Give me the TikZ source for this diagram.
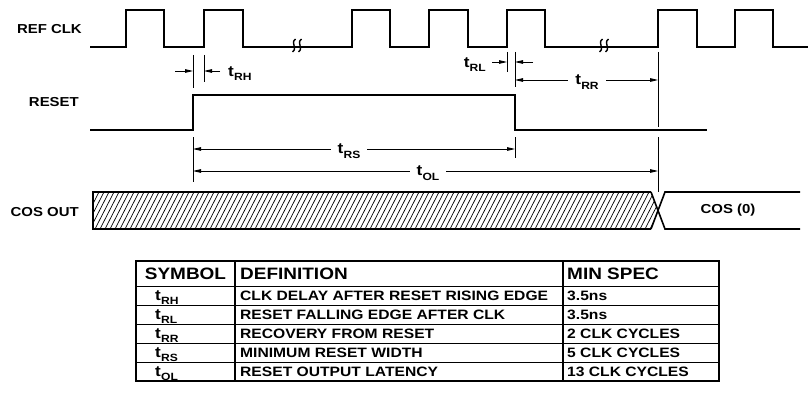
\documentclass[tikz,border=0pt]{standalone}
\usepackage{fontspec}
\setmainfont{Liberation Sans}[FakeStretch=1.15]
\usetikzlibrary{arrows.meta}
\newcommand\tlab[1]{t\kern0.2pt\raisebox{-0.3em}{\fontsize{10.5}{11}\selectfont #1}}
\begin{document}
\begin{tikzpicture}[x=1pt,y=-1pt,
  sig/.style={line width=1.8pt},
  dim/.style={line width=0.8pt},
  arr/.style={dim,-{Triangle[length=8pt,width=3.6pt]}},
  arr2/.style={dim,{Triangle[length=8pt,width=3.6pt]}-{Triangle[length=8pt,width=3.6pt]}},
  lab/.style={font=\bfseries\fontsize{13}{15}\selectfont, inner sep=0pt},
  tl/.style={font=\bfseries\fontsize{15}{16}\selectfont, inner sep=0pt},
  tlf/.style={tl, fill=white, inner xsep=7pt, inner ysep=1pt},
  hatch/.style={line width=0.7pt, black},
  box/.style={line width=1.6pt},
  hd/.style={font=\bfseries\fontsize{16.5}{18}\selectfont, inner sep=0pt},
  cell/.style={font=\bfseries\fontsize{13.6}{15}\selectfont, inner sep=0pt, anchor=base west},
  tcell/.style={font=\bfseries\fontsize{15}{16}\selectfont, inner sep=0pt, anchor=base west},
  brk/.style={line width=1.4pt}
]
\useasboundingbox (0,0) rectangle (808,412);

% ---------- labels ----------
\node[lab, anchor=east] (lclk) at (82,29) {REF CLK};
\node[lab, anchor=east] (lrst) at (79,102) {RESET};
\node[lab, anchor=east] (lcos) at (79,212) {COS OUT};

% ---------- REF CLK ----------
\draw[sig] (90,47) -- (126,47) -- (126,10) -- (164,10) -- (164,47)
  -- (204,47) -- (204,10) -- (243,10) -- (243,47)
  -- (352,47) -- (352,10) -- (390,10) -- (390,47)
  -- (429,47) -- (429,10) -- (468,10) -- (468,47)
  -- (507,47) -- (507,10) -- (545,10) -- (545,47)
  -- (658,47) -- (658,10) -- (697,10) -- (697,47)
  -- (735,47) -- (735,10) -- (773,10) -- (773,47) -- (808,47);
% break marks
\foreach \bx in {294,300,601,607}{
  \draw[brk] (\bx+1.5,39) .. controls (\bx-4,43) and (\bx+4,48) .. (\bx-1.5,52);
}

% ---------- RESET ----------
\draw[sig] (90,130) -- (193,130) -- (193,95) -- (515,95) -- (515,130) -- (707,130);

% ---------- tRH ----------
\coordinate (a1) at (193,55); \coordinate (a2) at (193,88);
\coordinate (b1) at (204,55); \coordinate (b2) at (204,82);
\draw[dim] (a1) -- (a2);
\draw[dim] (b1) -- (b2);
\coordinate (rhL) at (175,71); \coordinate (rhLe) at (193,71);
\coordinate (rhR) at (220,71); \coordinate (rhRe) at (204,71);
\draw[arr] (rhL) -- (rhLe);
\draw[arr] (rhR) -- (rhRe);
\node[tl, anchor=base west] (trh) at (228,76) {\tlab{RH}};

% ---------- tRL / tRR ----------
\coordinate (c1) at (507,52); \coordinate (c2) at (507,72);
\coordinate (d1) at (515,52); \coordinate (d2) at (515,87);
\draw[dim] (c1) -- (c2);
\draw[dim] (d1) -- (d2);
\coordinate (rlL) at (492,62); \coordinate (rlLe) at (507,62);
\coordinate (rlR) at (533,62); \coordinate (rlRe) at (515,62);
\draw[arr] (rlL) -- (rlLe);
\draw[arr] (rlR) -- (rlRe);
\node[tl, anchor=base east] (trl) at (486,67) {\tlab{RL}};
\coordinate (e1) at (658,52); \coordinate (e2) at (658,127);
\draw[dim] (e1) -- (e2);
\coordinate (rrL) at (515,80); \coordinate (rrR) at (658,80);
\draw[arr2] (rrL) -- (rrR);
\node[tlf] (trr) at (587,82) {\tlab{RR}};

% ---------- tRS / tOL ----------
\coordinate (f1) at (193,137); \coordinate (f2) at (193,182);
\coordinate (g1) at (515,137); \coordinate (g2) at (515,158);
\coordinate (h1) at (658,137); \coordinate (h2) at (658,192);
\draw[dim] (f1) -- (f2);
\draw[dim] (g1) -- (g2);
\draw[dim] (h1) -- (h2);
\coordinate (rsL) at (193,149); \coordinate (rsR) at (515,149);
\draw[arr2] (rsL) -- (rsR);
\node[tlf] (trs) at (349,151) {\tlab{RS}};
\coordinate (olL) at (193,171); \coordinate (olR) at (658,171);
\draw[arr2] (olL) -- (olR);
\node[tlf] (tol) at (428,173) {\tlab{OL}};

% ---------- COS OUT ----------
\begin{scope}
  \clip (93,192) -- (651,192) -- (658,210.5) -- (651,229) -- (93,229) -- cycle;
  \foreach \x in {70,75,...,660} \draw[hatch] (\x,229) -- (\x+19,192);
\end{scope}
\draw[box] (651,192) -- (93,192) -- (93,229) -- (651,229);
\draw[box] (651,192) -- (665,229) -- (800,229);
\draw[box] (651,229) -- (665,192) -- (800,192);
\node[lab] (cos0) at (728,210) {COS (0)};

% ---------- table ----------
\draw[line width=0.9pt] (136,286) -- (719,286);
\foreach \yy in {305,324,343,362} \draw[line width=0.8pt] (136,\yy) -- (719,\yy);
\draw[line width=1.3pt] (235,261) -- (235,381);
\draw[line width=1.3pt] (563,261) -- (563,381);
\draw[line width=1.6pt] (136,261) rectangle (719,381);

\node[hd] (hsym) at (185.5,273.5) {SYMBOL};
\node[hd, anchor=west] (hdef) at (240,273.5) {DEFINITION};
\node[hd, anchor=west] (hmin) at (567,273.5) {MIN SPEC};

\node[tcell] (s1) at (155,300) {\tlab{RH}};
\node[tcell] (s2) at (155,319) {\tlab{RL}};
\node[tcell] (s3) at (155,338) {\tlab{RR}};
\node[tcell] (s4) at (155,357) {\tlab{RS}};
\node[tcell] (s5) at (155,376) {\tlab{OL}};

\node[cell] (d1t) at (240,300.5) {CLK DELAY AFTER RESET RISING EDGE};
\node[cell] (d2t) at (240,319.5) {RESET FALLING EDGE AFTER CLK};
\node[cell] (d3t) at (240,338.5) {RECOVERY FROM RESET};
\node[cell] (d4t) at (240,357.5) {MINIMUM RESET WIDTH};
\node[cell] (d5t) at (240,376.5) {RESET OUTPUT LATENCY};

\node[cell] (m1) at (567,300.5) {3.5ns};
\node[cell] (m2) at (567,319.5) {3.5ns};
\node[cell] (m3) at (567,338.5) {2 CLK CYCLES};
\node[cell] (m4) at (567,357.5) {5 CLK CYCLES};
\node[cell] (m5) at (567,376.5) {13 CLK CYCLES};
\end{tikzpicture}
\end{document}
